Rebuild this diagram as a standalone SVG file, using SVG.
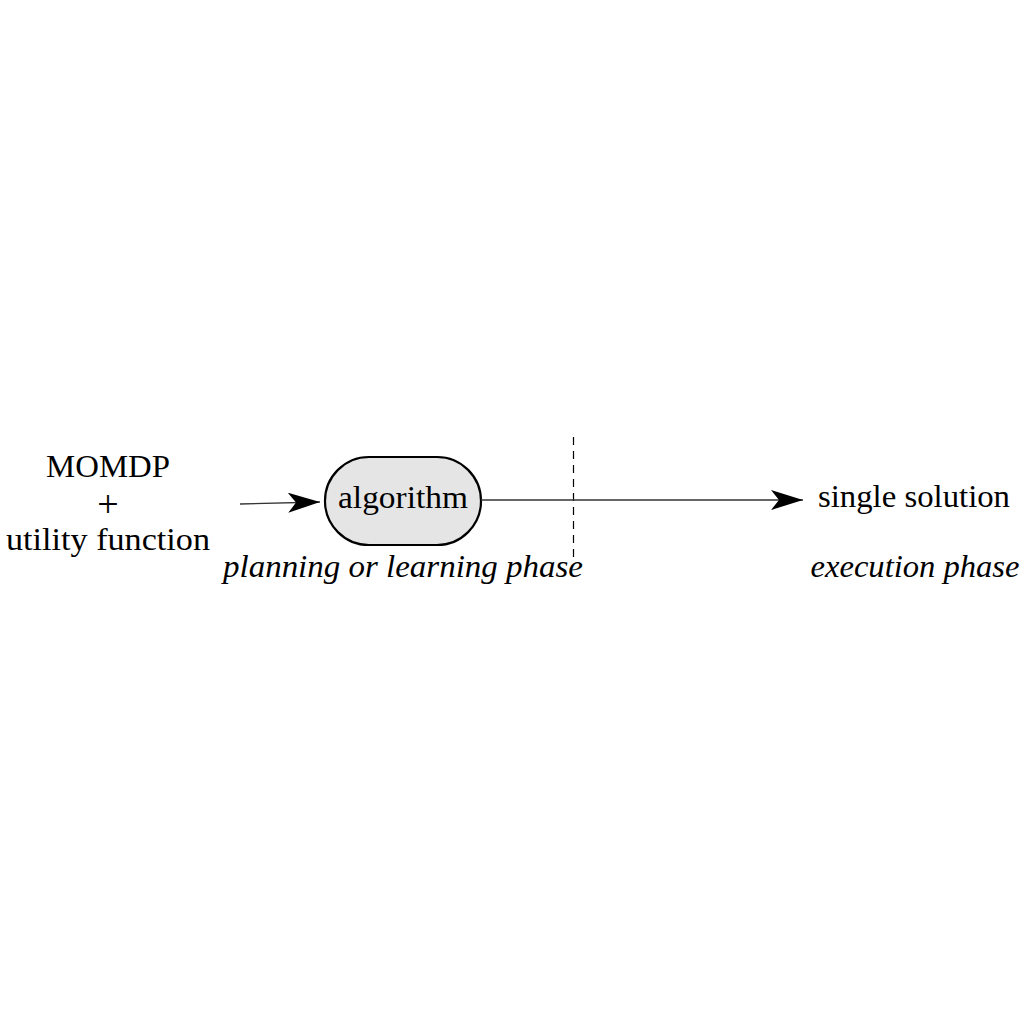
<svg xmlns="http://www.w3.org/2000/svg" width="1024" height="1024" viewBox="0 0 1024 1024">
<defs>
<style>
text{font-family:"Liberation Serif","DejaVu Serif",serif;font-size:32px;fill:#000;text-anchor:middle}
.it{font-style:italic}
.edge{fill:none;stroke:#333;stroke-width:1.4}
</style>
<marker id="stealth" viewBox="0 0 32 20" refX="32" refY="10" markerWidth="32" markerHeight="20" markerUnits="userSpaceOnUse" orient="auto">
<path d="M0,0 L32,10 L0,20 L8,10 Z" fill="#000"/>
</marker>
</defs>
<rect width="1024" height="1024" fill="#fff"/>
<g id="input">
<text x="108" y="477" textLength="124" lengthAdjust="spacingAndGlyphs">MOMDP</text>
<text x="108" y="517" style="font-size:38px">+</text>
<text x="108" y="550" textLength="204" lengthAdjust="spacingAndGlyphs">utility function</text>
</g>
<g id="algorithm">
<rect x="325" y="457" width="156" height="88" rx="44" ry="44" fill="#e5e5e5" stroke="#000" stroke-width="2.2"/>
<text x="403" y="508" textLength="130" lengthAdjust="spacingAndGlyphs">algorithm</text>
</g>
<g id="output">
<text x="914" y="507" textLength="192" lengthAdjust="spacingAndGlyphs">single solution</text>
</g>
<g id="labels">
<text class="it" x="403" y="577" textLength="360" lengthAdjust="spacingAndGlyphs">planning or learning phase</text>
<text class="it" x="915" y="577" textLength="209" lengthAdjust="spacingAndGlyphs">execution phase</text>
</g>
<g id="divider">
<line x1="573.5" y1="437" x2="573.5" y2="562" stroke="#000" stroke-width="1.2" stroke-dasharray="8,6"/>
</g>
<g id="connectors">
<line class="edge" x1="240" y1="504" x2="320" y2="502" marker-end="url(#stealth)"/>
<line class="edge" x1="481" y1="500" x2="803" y2="500" marker-end="url(#stealth)"/>
</g>
</svg>
